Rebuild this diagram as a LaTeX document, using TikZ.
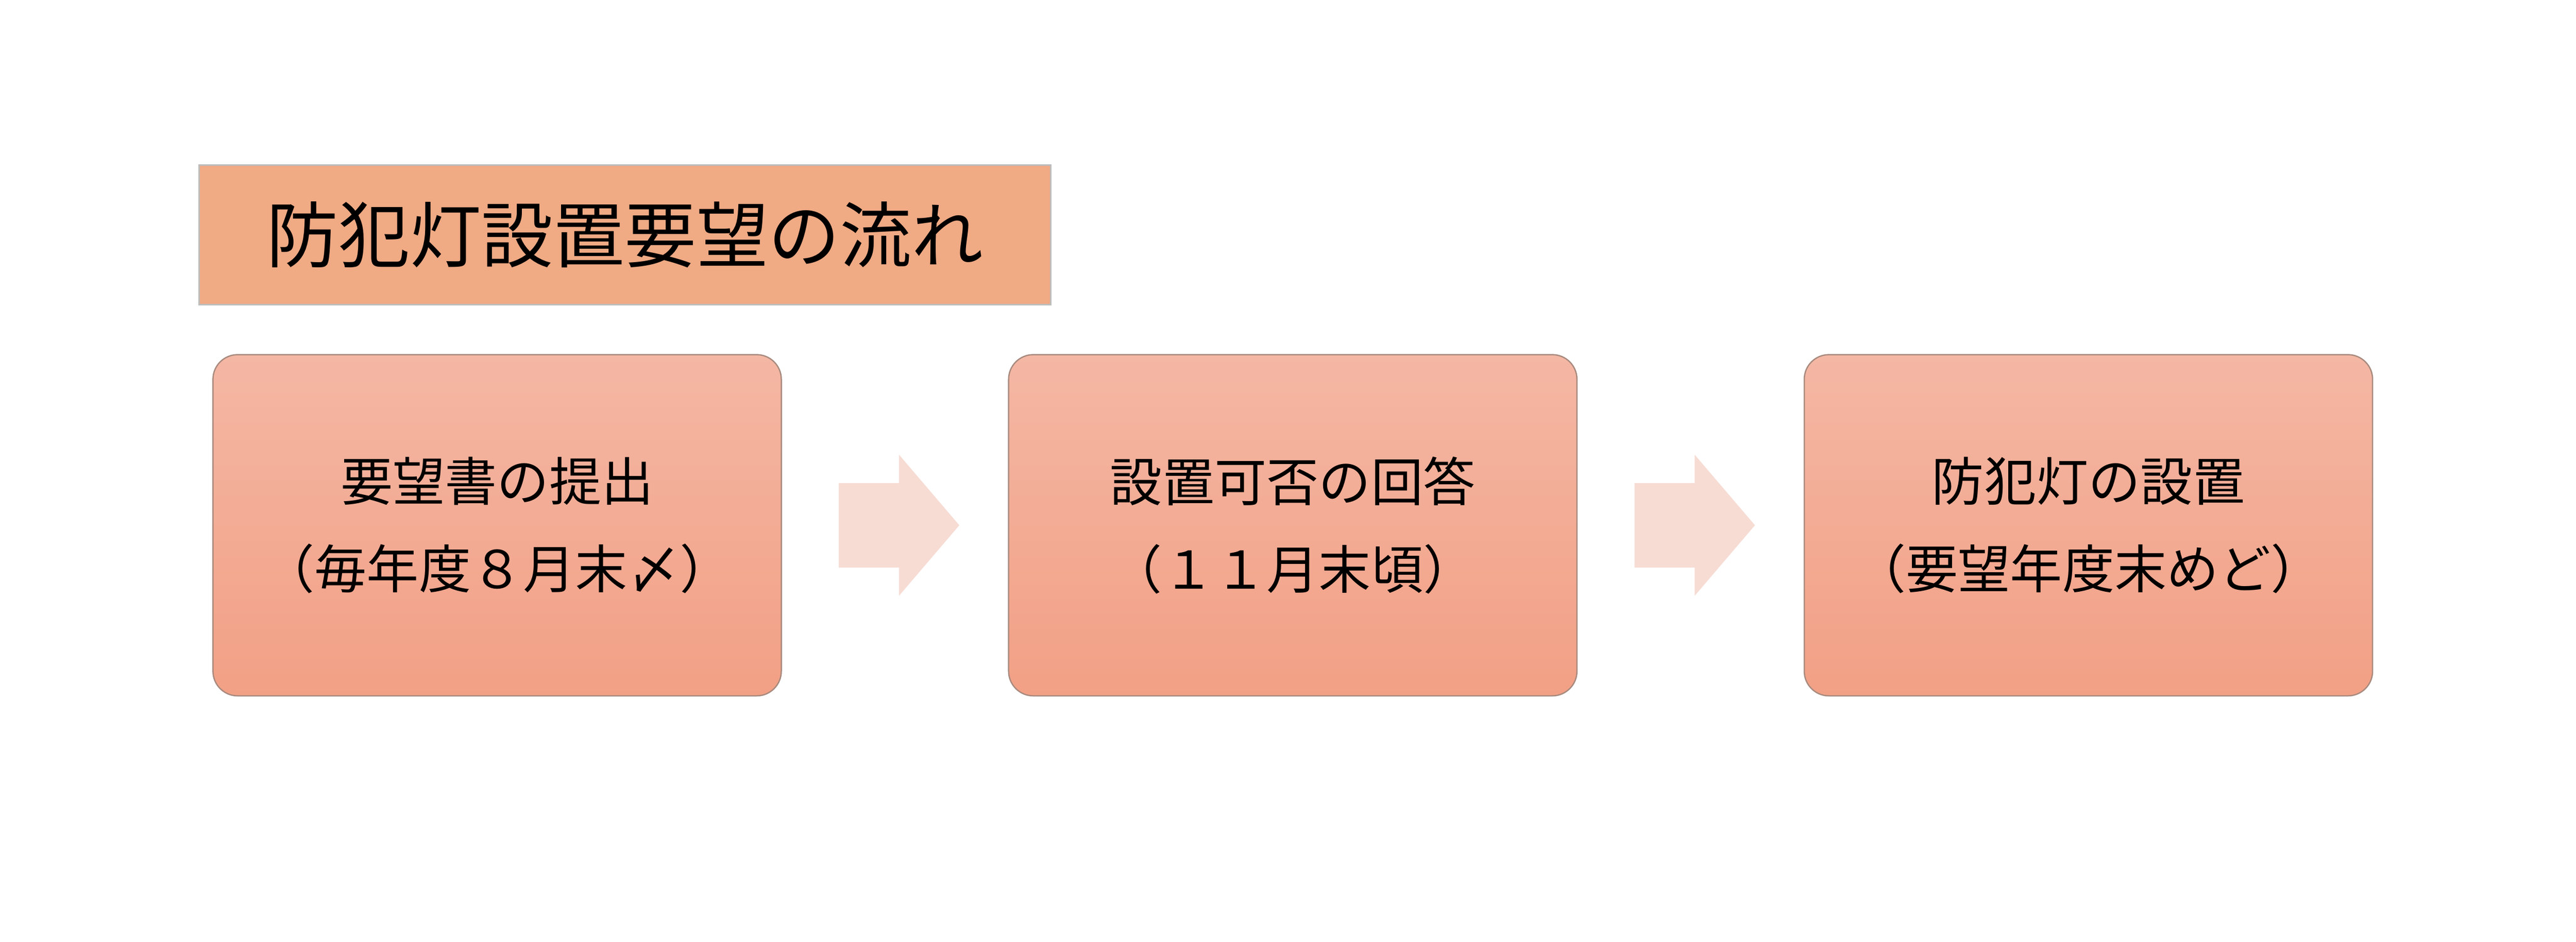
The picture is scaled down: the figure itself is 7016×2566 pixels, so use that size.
\documentclass[tikz,border=0pt]{standalone}
\usepackage{fontspec}
\setmainfont{Noto Sans CJK JP}
\usetikzlibrary{calc}
\definecolor{titlefill}{HTML}{F0AA84}
\definecolor{titleline}{HTML}{BDBDBD}
\definecolor{boxtop}{HTML}{F4B7A4}
\definecolor{boxbottom}{HTML}{F2A085}
\definecolor{boxline}{HTML}{A88A7E}
\definecolor{arrowfill}{HTML}{F7DCD4}
\tikzset{
  titlebox/.style={rectangle, fill=titlefill, draw=titleline, line width=1pt,
    minimum width=23.18cm, minimum height=3.80cm, inner sep=0pt,
    font=\fontsize{55.5pt}{62pt}\selectfont},
  stepbox/.style={rectangle, rounded corners=0.67cm, draw=boxline, line width=1pt,
    top color=boxtop, bottom color=boxbottom,
    minimum width=15.47cm, minimum height=9.29cm, inner sep=0pt, align=center,
    font=\fontsize{40.4pt}{67.7pt}\selectfont},
  flowarrow/.style={fill=arrowfill, draw=none}
}
\begin{document}
\begin{tikzpicture}[x=0.01cm, y=-0.01cm]
\useasboundingbox[fill=white] (0,0) rectangle (7016,2566);
\node[titlebox] (title) at (1702,640) {防犯灯設置要望の流れ};
\node[stepbox] (b1) at (1354,1431) {要望書の提出\\（毎年度８月末〆）};
\node[stepbox] (b2) at (3521,1431) {設置可否の回答\\（１１月末頃）};
\node[stepbox] (b3) at (5688,1431) {防犯灯の設置\\（要望年度末めど）};
\path (b1.east) ++(155,0) coordinate (a1);
\path (b2.east) ++(155,0) coordinate (a2);
\foreach \s in {a1,a2}{
  \fill[flowarrow] (\s) ++(0,-115) -- ++(164,0) -- ++(0,-77) -- ++(164,192)
    -- ++(-164,192) -- ++(0,-77) -- ++(-164,0) -- cycle;
}
\end{tikzpicture}
\end{document}
